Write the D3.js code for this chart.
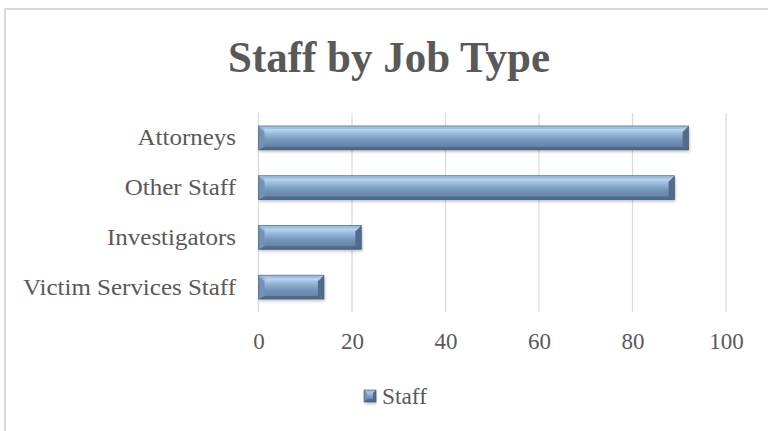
<!DOCTYPE html>
<html>
<head>
<meta charset="utf-8">
<script src="https://cdn.jsdelivr.net/npm/d3@7"></script>
<style>
  html, body { margin: 0; padding: 0; background: #fff; }
  svg { display: block; }
  text { font-family: "Liberation Serif", "DejaVu Serif", serif; fill: #595959; }
</style>
</head>
<body>
<svg id="chart" width="768" height="431"></svg>
<script>
// Chart data
const categories = ["Attorneys", "Other Staff", "Investigators", "Victim Services Staff"];
const staffValues = [92, 89, 22, 14];
const tickValues = [0, 20, 40, 60, 80, 100];
const seriesName = "Staff";
const chartTitle = "Staff by Job Type";

const svg = d3.select("#chart");
const W = 768, H = 431;
const serif = "'Liberation Serif', serif";

// Chart frame (top and left edges visible)
svg.append("path")
  .attr("d", `M5,${H} L5,9 L${W},9`)
  .attr("fill", "none")
  .attr("stroke", "#d9d9d9")
  .attr("stroke-width", 2);

// Gradients for bevelled bars
const defs = svg.append("defs");
const faceGrad = defs.append("linearGradient")
  .attr("id", "faceGrad").attr("x1", 0).attr("y1", 0).attr("x2", 0).attr("y2", 1);
[[0, "#96b8d8"], [0.15, "#b6d6f1"], [0.34, "#98b8d9"], [0.6, "#7595b9"], [1, "#5e7c9f"]]
  .forEach(([o, c]) => faceGrad.append("stop").attr("offset", o).attr("stop-color", c));

const shadowFilter = defs.append("filter").attr("id", "barShadow")
  .attr("x", "-5%").attr("y", "-20%").attr("width", "110%").attr("height", "160%");
shadowFilter.append("feDropShadow")
  .attr("dx", 1).attr("dy", 2).attr("stdDeviation", 1.6)
  .attr("flood-color", "#000").attr("flood-opacity", 0.25);

// Scales
const x = d3.scaleLinear().domain([0, 100]).range([258.5, 726]);
const y = d3.scaleBand().domain(categories).range([113, 312])
  .paddingInner(0.52).paddingOuter(0.26);

// Vertical gridlines
svg.append("g").selectAll("line").data(tickValues).join("line")
  .attr("x1", d => x(d)).attr("x2", d => x(d))
  .attr("y1", 113).attr("y2", 312)
  .attr("stroke", "#d9d9d9").attr("stroke-width", 1.2);

// X axis tick labels
const xAxis = d3.axisBottom(x).tickValues(tickValues).tickSize(0).tickPadding(0);
const gx = svg.append("g").attr("transform", "translate(0,333)").call(xAxis);
gx.select(".domain").remove();
gx.selectAll("text")
  .attr("dy", "0.71em")
  .style("font-family", serif)
  .style("font-size", "23px")
  .attr("fill", "#595959");

// Category labels
const yAxis = d3.axisLeft(y).tickSize(0).tickPadding(0);
const gy = svg.append("g").attr("transform", "translate(236,0)").call(yAxis);
gy.select(".domain").remove();
const yLabels = gy.selectAll("text")
  .style("font-family", serif)
  .style("font-size", "23px")
  .attr("fill", "#595959");
// widen the labels uniformly so the longest spans the left margin
const longest = d3.max(yLabels.nodes(), n => n.getComputedTextLength());
const widen = 213 / longest;
yLabels.each(function () {
  d3.select(this)
    .attr("textLength", this.getComputedTextLength() * widen)
    .attr("lengthAdjust", "spacingAndGlyphs");
});

// Bevelled bar drawing
function bevelBar(g, x0, y0, w, h, b0 = 6) {
  const b = Math.min(b0, w / 2);
  const t = Math.min(3, h / 4);
  const x1 = x0 + w, y1 = y0 + h;
  g.append("rect").attr("x", x0).attr("y", y0).attr("width", w).attr("height", h)
    .attr("fill", "url(#faceGrad)").attr("filter", "url(#barShadow)");
  // top facet
  g.append("path").attr("d", `M${x0},${y0} L${x1},${y0} L${x1 - b},${y0 + t} L${x0 + b},${y0 + t} Z`)
    .attr("fill", "#9cbddd").attr("opacity", 0.8);
  // bottom facet
  g.append("path").attr("d", `M${x0},${y1} L${x1},${y1} L${x1 - b},${y1 - t} L${x0 + b},${y1 - t} Z`)
    .attr("fill", "#4f6a8a");
  // left facet: light upper triangle, darker lower part
  g.append("path").attr("d", `M${x0},${y0} L${x0 + b},${y0 + b} L${x0 + b},${y1 - t} L${x0},${y1} Z`)
    .attr("fill", "#7392b6");
  g.append("path").attr("d", `M${x0},${y0} L${x0 + b},${y0 + t} L${x0 + b},${y0 + b} Z`)
    .attr("fill", "#93b4d5");
  // right facet
  g.append("path").attr("d", `M${x1},${y0} L${x1 - b},${y0 + b} L${x1 - b},${y1 - t} L${x1},${y1} Z`)
    .attr("fill", "#526b8b");
  // outline
  g.append("rect").attr("x", x0).attr("y", y0).attr("width", w).attr("height", h)
    .attr("fill", "none").attr("stroke", "#3b5270").attr("stroke-width", 0.8).attr("opacity", 0.7);
}

const bars = svg.append("g");
categories.forEach((c, i) => {
  bevelBar(bars.append("g"), x(0), y(c), x(staffValues[i]) - x(0), y.bandwidth());
});

// Title
svg.append("text")
  .attr("x", 389).attr("y", 72)
  .attr("text-anchor", "middle")
  .style("font-family", serif)
  .style("font-size", "44px").style("font-weight", "bold")
  .attr("textLength", 322).attr("lengthAdjust", "spacingAndGlyphs")
  .text(chartTitle);

// Legend
const lg = svg.append("g");
bevelBar(lg, 364, 390, 12, 12, 3);
lg.append("text")
  .attr("x", 382).attr("y", 404)
  .style("font-family", serif)
  .style("font-size", "23px")
  .attr("textLength", 45).attr("lengthAdjust", "spacingAndGlyphs")
  .text(seriesName);
</script>
</body>
</html>
